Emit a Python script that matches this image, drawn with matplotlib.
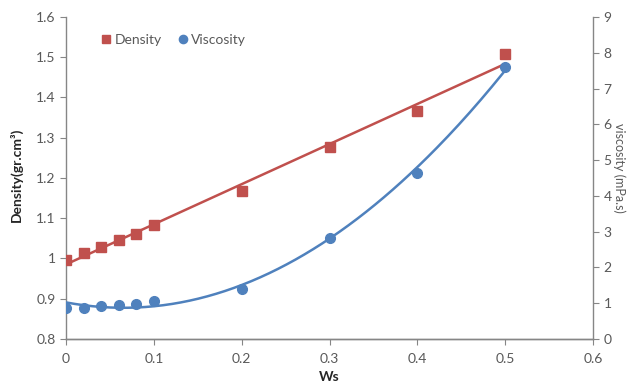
import numpy as np
import matplotlib
matplotlib.use("Agg")
import matplotlib.pyplot as plt

ws = [0, 0.02, 0.04, 0.06, 0.08, 0.1, 0.2, 0.3, 0.4, 0.5]
density = [0.996, 1.013, 1.028, 1.045, 1.062, 1.083, 1.167, 1.278, 1.366, 1.509]
viscosity = [0.875, 0.87, 0.91, 0.96, 0.99, 1.07, 1.41, 2.81, 4.65, 7.61]

red = "#C0504D"
blue = "#4F81BD"
gray = "#595959"
axcol = "#868686"

plt.rcParams['font.family'] = ['Lato', 'DejaVu Sans']

fig = plt.figure(figsize=(6.35, 3.86), dpi=100)
ax = fig.add_axes([0.1039, 0.1218, 0.830, 0.8342])
ax2 = ax.twinx()

x = np.array(ws)
# trend lines (linear for density, polynomial for viscosity)
pd_ = np.polyfit(x, density, 1)
pv = np.polyfit(x, viscosity, 2)
xf = np.linspace(0, 0.5, 200)
ax.plot(xf, np.polyval(pd_, xf), color=red, lw=1.8, zorder=2)
ax2.plot(xf, np.polyval(pv, xf), color=blue, lw=1.8, zorder=2)

ax.plot(ws, density, 's', color=red, ms=7.5, zorder=3, label="Density")
ax2.plot(ws, viscosity, 'o', color=blue, ms=7, zorder=3, label="Viscosity")

ax.set_xlim(0, 0.6)
ax.set_ylim(0.8, 1.6)
ax2.set_ylim(0, 9)
ax.set_xticks(np.arange(0, 0.61, 0.1))
ax.set_xticklabels(["0", "0.1", "0.2", "0.3", "0.4", "0.5", "0.6"])
ax.set_yticks(np.arange(0.8, 1.61, 0.1))
ax.set_yticklabels(["0.8", "0.9", "1", "1.1", "1.2", "1.3", "1.4", "1.5", "1.6"])
ax2.set_yticks(range(0, 10))

for a in (ax, ax2):
    a.spines['top'].set_visible(False)
    for s in ('left', 'right', 'bottom'):
        a.spines[s].set_color(axcol)
        a.spines[s].set_linewidth(1.0)
    a.tick_params(colors=axcol, labelcolor=gray, labelsize=10, length=4, direction='out')
ax.tick_params(axis='x', pad=6)
ax2.spines['left'].set_visible(False)
ax.spines['right'].set_visible(False)

ax.set_xlabel("Ws", fontsize=10, color="#262626", fontweight='bold')
ax.xaxis.set_label_coords(0.5, -0.1)
ax.set_ylabel("Density(gr.cm³)", fontsize=10, color="#262626", fontweight='bold')
ax.yaxis.set_label_coords(-0.082, 0.51)
ax2.set_ylabel("viscosity (mPa.s)", fontsize=9, color=gray, rotation=270, va='center')
ax2.yaxis.set_label_coords(1.05, 0.53)

h1, l1 = ax.get_legend_handles_labels()
h2, l2 = ax2.get_legend_handles_labels()
leg = ax2.legend(h1 + h2, l1 + l2, loc='upper left', bbox_to_anchor=(0.045, 0.985), ncol=2,
                 frameon=False, fontsize=10, handlelength=0.6, handletextpad=0.3,
                 columnspacing=1.2, markerscale=0.85)
for t in leg.get_texts():
    t.set_color(gray)

fig.savefig("out.png", dpi=100)
